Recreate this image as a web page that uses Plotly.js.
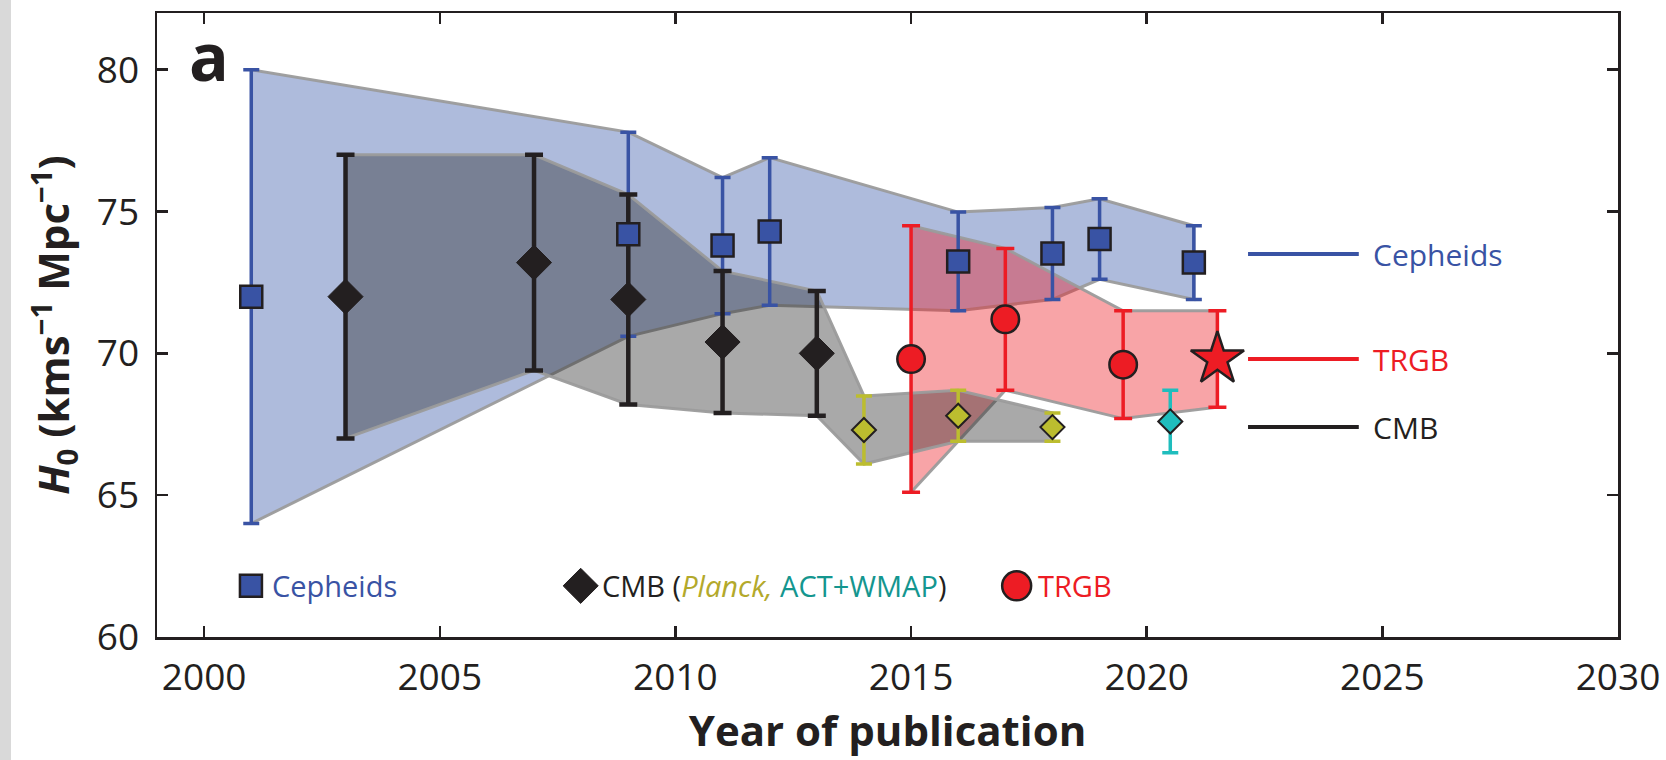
<!DOCTYPE html>
<html>
<head>
<meta charset="utf-8">
<script src="https://cdn.plot.ly/plotly-3.0.1.min.js"></script>
<style>
  html, body { margin: 0; padding: 0; background: #ffffff; }
  #chart { width: 1666px; height: 760px; }
</style>
</head>
<body>
<div id="chart"></div>
<script>
// ---------------- data ----------------
const cephYear = [2001, 2009, 2011, 2012, 2016, 2018, 2019, 2021];
const cephH0   = [72.0, 74.2, 73.8, 74.3, 73.24, 73.52, 74.03, 73.2];
const cephErr  = [8.0, 3.6, 2.4, 2.6, 1.74, 1.62, 1.42, 1.3];

const wmapYear = [2003, 2007, 2009, 2011, 2013];
const wmapH0   = [72.0, 73.2, 71.9, 70.4, 70.0];
const wmapErr  = [5.0, 3.8, 3.7, 2.5, 2.2];

const planckYear = [2014, 2016, 2018];
const planckH0   = [67.3, 67.8, 67.4];
const planckErr  = [1.2, 0.9, 0.5];

const actYear = [2020.5];
const actH0   = [67.6];
const actErr  = [1.1];

const trgbYear   = [2015, 2017, 2019.5, 2021.5];
const trgbH0     = [69.8, 71.2, 69.6, 69.8];
const trgbErr    = [4.7, 2.5, 1.9, 1.7];
const trgbSymbol = ['circle', 'circle', 'circle', 'star'];

const sumLabels = ['Cepheids', 'TRGB', 'CMB'];
const sumH0     = [73.5, 69.8, 67.4];

const xTickVals = [2000, 2005, 2010, 2015, 2020, 2025, 2030];
const yTickVals = [60, 65, 70, 75, 80];

// ---------------- styles ----------------
const INK = '#231f20';
const BLUE = '#3953a4';
const RED = '#ed1c24';
const OLIVE = '#bcbd2f';
const TEAL = '#1fbdbd';
const FONT = '"Open Sans", "Noto Sans", sans-serif';
const sumColors = [BLUE, RED, INK];

function bandPolygon(xs, ys, es) {
  const up = ys.map((v, i) => v + es[i]);
  const lo = ys.map((v, i) => v - es[i]);
  return {
    x: xs.concat(xs.slice().reverse()),
    y: up.concat(lo.slice().reverse())
  };
}

const cephBand = bandPolygon(cephYear, cephH0, cephErr);
const trgbBand = bandPolygon(trgbYear, trgbH0, trgbErr);
const cmbBand  = bandPolygon(wmapYear.concat(planckYear), wmapH0.concat(planckH0), wmapErr.concat(planckErr));

const edge = { color: 'rgba(155,155,155,0.95)', width: 3 };

const traces = [];
traces.push({ type: 'scatter', mode: 'lines', x: cephBand.x, y: cephBand.y, fill: 'toself',
  fillcolor: '#aebbdc', line: edge, hoverinfo: 'skip', showlegend: false });
traces.push({ type: 'scatter', mode: 'lines', x: trgbBand.x, y: trgbBand.y, fill: 'toself',
  fillcolor: 'rgba(237,28,36,0.40)', line: edge, hoverinfo: 'skip', showlegend: false });
traces.push({ type: 'scatter', mode: 'lines', x: cmbBand.x, y: cmbBand.y, fill: 'toself',
  fillcolor: 'rgba(40,40,40,0.40)', line: edge, hoverinfo: 'skip', showlegend: false });

// Cepheid error bars (under the CMB bars)
traces.push({ type: 'scatter', mode: 'markers', x: cephYear, y: cephH0,
  marker: { size: 2, opacity: 0, color: BLUE },
  error_y: { type: 'data', array: cephErr, visible: true, color: BLUE, thickness: 3.5, width: 8 },
  showlegend: false, hoverinfo: 'skip' });

// WMAP
traces.push({ type: 'scatter', mode: 'markers', x: wmapYear, y: wmapH0,
  marker: { symbol: 'diamond', size: 27, color: INK, opacity: 1, line: { color: INK, width: 1 } },
  error_y: { type: 'data', array: wmapErr, visible: true, color: INK, thickness: 4.5, width: 9 },
  showlegend: false });

// Planck
traces.push({ type: 'scatter', mode: 'markers', x: planckYear, y: planckH0,
  marker: { symbol: 'diamond', size: 18.5, color: OLIVE, opacity: 1, line: { color: INK, width: 2 } },
  error_y: { type: 'data', array: planckErr, visible: true, color: OLIVE, thickness: 3.5, width: 8 },
  showlegend: false });

// ACT+WMAP
traces.push({ type: 'scatter', mode: 'markers', x: actYear, y: actH0,
  marker: { symbol: 'diamond', size: 18.5, color: TEAL, opacity: 1, line: { color: INK, width: 2 } },
  error_y: { type: 'data', array: actErr, visible: true, color: TEAL, thickness: 3.5, width: 8 },
  showlegend: false });

// TRGB
traces.push({ type: 'scatter', mode: 'markers', x: trgbYear, y: trgbH0,
  marker: { symbol: trgbSymbol, size: trgbSymbol.map(s => s === 'star' ? 40 : 27.5), color: RED,
            opacity: 1, line: { color: INK, width: 2.5 } },
  error_y: { type: 'data', array: trgbErr, visible: true, color: RED, thickness: 3.5, width: 9 },
  showlegend: false });

// Cepheid markers on top
traces.push({ type: 'scatter', mode: 'markers', x: cephYear, y: cephH0,
  marker: { symbol: 'square', size: 22, color: BLUE, opacity: 1, line: { color: INK, width: 2.5 } },
  showlegend: false });

// summary lines on the right
const sumX0 = 2022.15, sumX1 = 2024.5, sumTextX = 2024.75;
sumLabels.forEach((lab, i) => {
  traces.push({ type: 'scatter', mode: 'lines', x: [sumX0, sumX1], y: [sumH0[i], sumH0[i]],
    line: { color: sumColors[i], width: 4 }, showlegend: false, hoverinfo: 'skip' });
});

// legend keys (in an overlay 0..1 frame)
const keyX = [0.0643, 0.2900, 0.5884];
const keyY = 0.082;
traces.push({ type: 'scatter', mode: 'markers', xaxis: 'x2', yaxis: 'y2',
  x: keyX, y: [keyY, keyY, keyY],
  marker: { symbol: ['square', 'diamond', 'circle'], size: [22, 27, 29], opacity: 1,
            color: [BLUE, INK, RED], line: { color: INK, width: [2.5, 1, 2.5] } },
  showlegend: false, hoverinfo: 'skip' });

const annotations = [];
annotations.push({ xref: 'paper', yref: 'paper', x: 0.0205, y: 0.933, xanchor: 'left', yanchor: 'middle',
  text: '<b>a</b>', showarrow: false, font: { family: FONT, size: 66, color: INK, weight: 'bold' } });
sumLabels.forEach((lab, i) => {
  annotations.push({ xref: 'x', yref: 'y', x: sumTextX, y: sumH0[i], xanchor: 'left', yanchor: 'middle',
    text: lab, showarrow: false, font: { family: FONT, size: 30, color: sumColors[i] } });
});
const keyText = [
  '<span style="color:' + BLUE + '">Cepheids</span>',
  '<span style="color:' + INK + '">CMB (</span><span style="color:#b3a92b"><i>Planck,</i></span> <span style="color:#14968f">ACT+WMAP</span><span style="color:' + INK + '">)</span>',
  '<span style="color:' + RED + '">TRGB</span>'
];
keyText.forEach((t, i) => {
  annotations.push({ xref: 'paper', yref: 'paper', x: keyX[i], y: keyY, xanchor: 'left', yanchor: 'middle',
    xshift: 19, text: t, showarrow: false, font: { family: FONT, size: 29, color: INK } });
});

const axisCommon = {
  showline: true, linecolor: INK, linewidth: 2.5, mirror: 'ticks',
  ticks: 'inside', ticklen: 11, tickwidth: 2.5, tickcolor: INK,
  showgrid: false, zeroline: false,
  tickfont: { family: FONT, size: 37, color: INK }
};

const layout = {
  width: 1666, height: 760,
  margin: { l: 157, r: 48, t: 13, b: 123 },
  paper_bgcolor: '#ffffff', plot_bgcolor: '#ffffff',
  hovermode: false,
  xaxis: Object.assign({}, axisCommon, {
    range: [1999, 2030], tickmode: 'array', tickvals: xTickVals,
    ticktext: xTickVals.map(String),
    ticklabelstandoff: 6,
    title: { text: '<b>Year of publication</b>', standoff: 14,
             font: { family: FONT, size: 42, color: INK, weight: 'bold' } }
  }),
  yaxis: Object.assign({}, axisCommon, {
    range: [60, 82], tickmode: 'array', tickvals: yTickVals,
    ticktext: yTickVals.map(String),
    ticklabelstandoff: 8,
    title: { text: '<b><i>H</i><sub>0</sub> (kms<sup>−1</sup> Mpc<sup>−1</sup>)</b>', standoff: 14,
             font: { family: FONT, size: 42, color: INK, weight: 'bold' } }
  }),
  xaxis2: { overlaying: 'x', range: [0, 1], visible: false, fixedrange: true },
  yaxis2: { overlaying: 'y', range: [0, 1], visible: false, fixedrange: true },
  shapes: [
    { type: 'rect', xref: 'paper', yref: 'paper', x0: -157 / 1461, x1: -146 / 1461,
      y0: -123 / 624, y1: 1 + 13 / 624, fillcolor: '#d9d9d9', line: { width: 0 }, layer: 'below' }
  ],
  annotations: annotations,
  showlegend: false
};

Plotly.newPlot('chart', traces, layout, { displayModeBar: false, staticPlot: true });
</script>
</body>
</html>
